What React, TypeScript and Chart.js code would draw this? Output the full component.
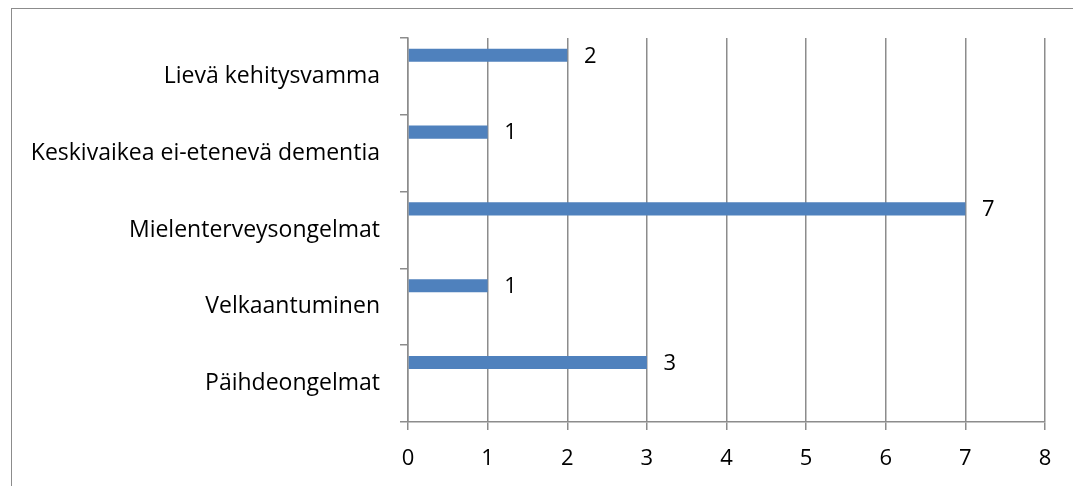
import React, { useEffect, useRef } from "react";
import { Chart, registerables } from "chart.js";

Chart.register(...registerables);

const categories = [
  "Lievä kehitysvamma",
  "Keskivaikea ei-etenevä dementia",
  "Mielenterveysongelmat",
  "Velkaantuminen",
  "Päihdeongelmat",
];
const values = [2, 1, 7, 1, 3];
const xTicks = [0, 1, 2, 3, 4, 5, 6, 7, 8];

const FONT = "'Open Sans', Lato, sans-serif";
const CAT_SIZE = 23;
const NUM_SIZE = 22;

const borderPlugin = {
  id: "outerBorder",
  beforeDraw(chart: any) {
    const ctx = chart.ctx;
    ctx.save();
    ctx.strokeStyle = "#8c8c8c";
    ctx.lineWidth = 1;
    ctx.strokeRect(11.5, 8.5, 1200, 600);
    ctx.restore();
  },
};

const labelPlugin = {
  id: "valueLabels",
  afterDatasetsDraw(chart: any) {
    const ctx = chart.ctx;
    const meta = chart.getDatasetMeta(0);
    ctx.save();
    ctx.fillStyle = "#000";
    ctx.font = `${NUM_SIZE}px ${FONT}`;
    ctx.textAlign = "center";
    ctx.textBaseline = "middle";
    meta.data.forEach((el: any, i: number) => {
      ctx.fillText(String(values[i]), el.x + 23, el.y + 1);
    });
    ctx.restore();
  },
};

export default function App() {
  const ref = useRef<HTMLCanvasElement | null>(null);
  useEffect(() => {
    if (!ref.current) return;
    const chart = new Chart(ref.current, {
      type: "bar",
      data: {
        labels: categories,
        datasets: [
          {
            data: values,
            backgroundColor: "#4F81BD",
            categoryPercentage: 1.1,
            barPercentage: 0.31,
          },
          {
            data: values.map(() => null),
            backgroundColor: "#C0504D",
            categoryPercentage: 1.1,
            barPercentage: 0.31,
          },
        ],
      },
      options: {
        indexAxis: "y",
        animation: false,
        responsive: false,
        maintainAspectRatio: false,
        layout: { padding: { top: 38, right: 28, left: 0, bottom: 0 } },
        plugins: { legend: { display: false }, tooltip: { enabled: false } },
        scales: {
          x: {
            min: 0,
            max: 8,
            afterBuildTicks(scale: any) {
              scale.ticks = xTicks.map((v) => ({ value: v }));
            },
            afterFit(scale: any) {
              scale.height = 64;
            },
            grid: {
              color: "#8c8c8c",
              lineWidth: 1.5,
              tickLength: 8,
              drawTicks: true,
            },
            border: { display: true, color: "#8c8c8c", width: 1.5 },
            ticks: {
              color: "#000",
              font: { family: FONT, size: NUM_SIZE },
              padding: 16,
            },
          },
          y: {
            afterFit(scale: any) {
              scale.width = 408;
            },
            grid: {
              offset: true,
              drawOnChartArea: false,
              color: "#8c8c8c",
              lineWidth: 1.5,
              tickLength: 8,
            },
            border: { display: true, color: "#8c8c8c", width: 1.5 },
            ticks: {
              color: "#000",
              font: { family: FONT, size: CAT_SIZE },
              padding: 20,
            },
          },
        },
      },
      plugins: [borderPlugin, labelPlugin],
    });
    return () => chart.destroy();
  }, []);
  return (
    <div style={{ position: "fixed", left: 0, top: 0, width: 1073, height: 486, background: "#fff" }}>
      <canvas ref={ref} width={1073} height={486} style={{ width: 1073, height: 486 }} />
    </div>
  );
}
